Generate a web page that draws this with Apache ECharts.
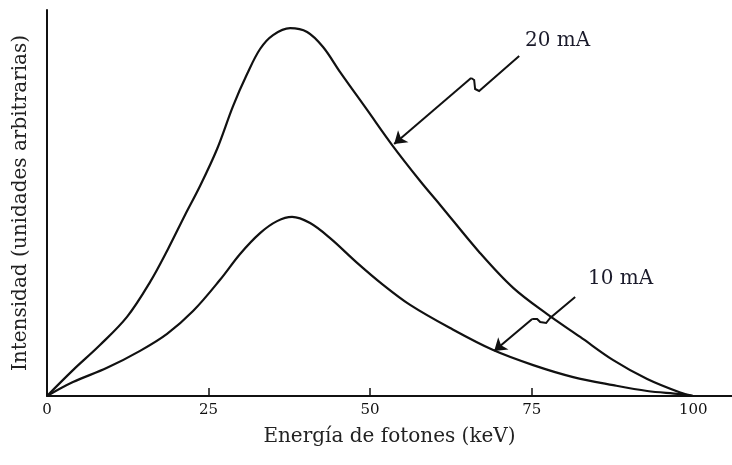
<!DOCTYPE html>
<html>
<head>
<meta charset="utf-8">
<script src="https://cdn.jsdelivr.net/npm/echarts@6/dist/echarts.min.js"></script>
<style>
  html, body { margin: 0; padding: 0; background: #fff; }
  #chart { width: 732px; height: 465px; }
</style>
</head>
<body>
<div id="chart"></div>
<script>
// Photon energy (keV) and intensity (arbitrary units) for each tube current
const energy20 = [0, 4.02, 8.20, 12.38, 15.94, 18.73, 21.36, 23.68, 26.32, 28.79, 30.96, 32.97, 34.98, 37.62,
                  40.25, 42.72, 45.36, 49.54, 53.41, 57.74, 60.84, 67.03, 72.14, 77.40, 82.51, 87.62, 92.88, 97.99, 100];
const intensity20 = [0, 6.7, 13.2, 20.5, 29.5, 38.1, 46.9, 54.4, 64.0, 75.1, 83.4, 89.9, 93.5, 95.3,
                     94.3, 90.4, 83.9, 74.1, 65.0, 55.7, 49.5, 37.0, 28.0, 21.2, 15.3, 9.3, 4.4, 0.9, 0];

const energy10 = [0, 4.02, 9.29, 14.40, 18.58, 22.60, 26.78, 29.88, 32.97, 35.60, 37.93, 40.71, 43.81, 47.99, 52.01,
                  56.19, 62.38, 69.04, 75.23, 81.42, 87.62, 92.88, 97.99, 100];
const intensity10 = [0, 3.6, 7.3, 11.7, 16.1, 22.0, 30.1, 36.8, 42.2, 45.3, 46.4, 44.8, 40.9, 34.5, 28.8,
                     23.6, 17.6, 11.9, 8.0, 4.9, 2.8, 1.3, 0.5, 0];

const energyTicks = [0, 25, 50, 75, 100];
const seriesNames = ['20 mA', '10 mA'];

// Callout leaders (energy, intensity): a broken lead-in, then a final arrowed stroke onto each curve
const lead20 = [[73.07, 88.08], [66.87, 79.02], [66.25, 79.53], [66.10, 81.87], [65.63, 82.38]];
const tip20 = [[65.63, 82.38], [53.72, 65.28]];
const lead10 = [[81.73, 25.65], [77.86, 20.21], [77.24, 18.91], [76.32, 19.17], [75.85, 19.95], [75.08, 19.95]];
const tip10 = [[75.08, 19.95], [69.20, 11.66]];

const zip = (xs, ys) => xs.map((x, i) => [x, ys[i]]);
const ink = '#111';
const serif = '"DejaVu Serif", "Liberation Serif", serif';

const chart = echarts.init(document.getElementById('chart'), null, { renderer: 'canvas' });

chart.setOption({
  animation: false,
  backgroundColor: '#fff',
  grid: { left: 47, right: 0, top: 10, bottom: 69, containLabel: false },
  xAxis: {
    type: 'value',
    min: 0,
    max: 106,
    interval: 25,
    name: 'Energía de fotones (keV)',
    nameLocation: 'middle',
    nameGap: 31,
    nameTextStyle: { fontFamily: serif, fontSize: 20, color: '#222' },
    axisLine: { lineStyle: { color: ink, width: 2 } },
    axisTick: { inside: true, length: 8, lineStyle: { color: ink, width: 1.5 }, customValues: [25, 50, 75] },
    axisLabel: { fontFamily: serif, fontSize: 15, color: ink, margin: 7, customValues: energyTicks },
    splitLine: { show: false }
  },
  yAxis: {
    type: 'value',
    min: 0,
    max: 100,
    name: 'Intensidad (unidades arbitrarias)',
    nameLocation: 'middle',
    nameGap: 16,
    nameTextStyle: { fontFamily: serif, fontSize: 20, color: '#222' },
    axisLine: { show: true, lineStyle: { color: ink, width: 2 } },
    axisTick: { show: false },
    axisLabel: { show: false },
    splitLine: { show: false }
  },
  series: [
    {
      name: seriesNames[0],
      type: 'line',
      data: zip(energy20, intensity20),
      smooth: 0.35,
      showSymbol: false,
      lineStyle: { color: ink, width: 2.2 }
    },
    {
      name: seriesNames[1],
      type: 'line',
      data: zip(energy10, intensity10),
      smooth: 0.35,
      showSymbol: false,
      lineStyle: { color: ink, width: 2.2 }
    },
    {
      type: 'lines',
      coordinateSystem: 'cartesian2d',
      polyline: true,
      lineStyle: { color: ink, width: 2, opacity: 1 },
      data: [{ coords: lead20 }, { coords: lead10 }],
      z: 5
    },
    {
      type: 'lines',
      coordinateSystem: 'cartesian2d',
      symbol: ['none', 'arrow'],
      symbolSize: [8, 12],
      lineStyle: { color: ink, width: 2, opacity: 1 },
      data: [{ coords: tip20 }, { coords: tip10 }],
      z: 5
    }
  ],
  graphic: [
    { type: 'text', left: 525, top: 31, style: { text: seriesNames[0], font: '20px ' + serif, fill: '#1a1a2a' } },
    { type: 'text', left: 588, top: 269, style: { text: seriesNames[1], font: '20px ' + serif, fill: '#1a1a2a' } }
  ]
});
</script>
</body>
</html>
